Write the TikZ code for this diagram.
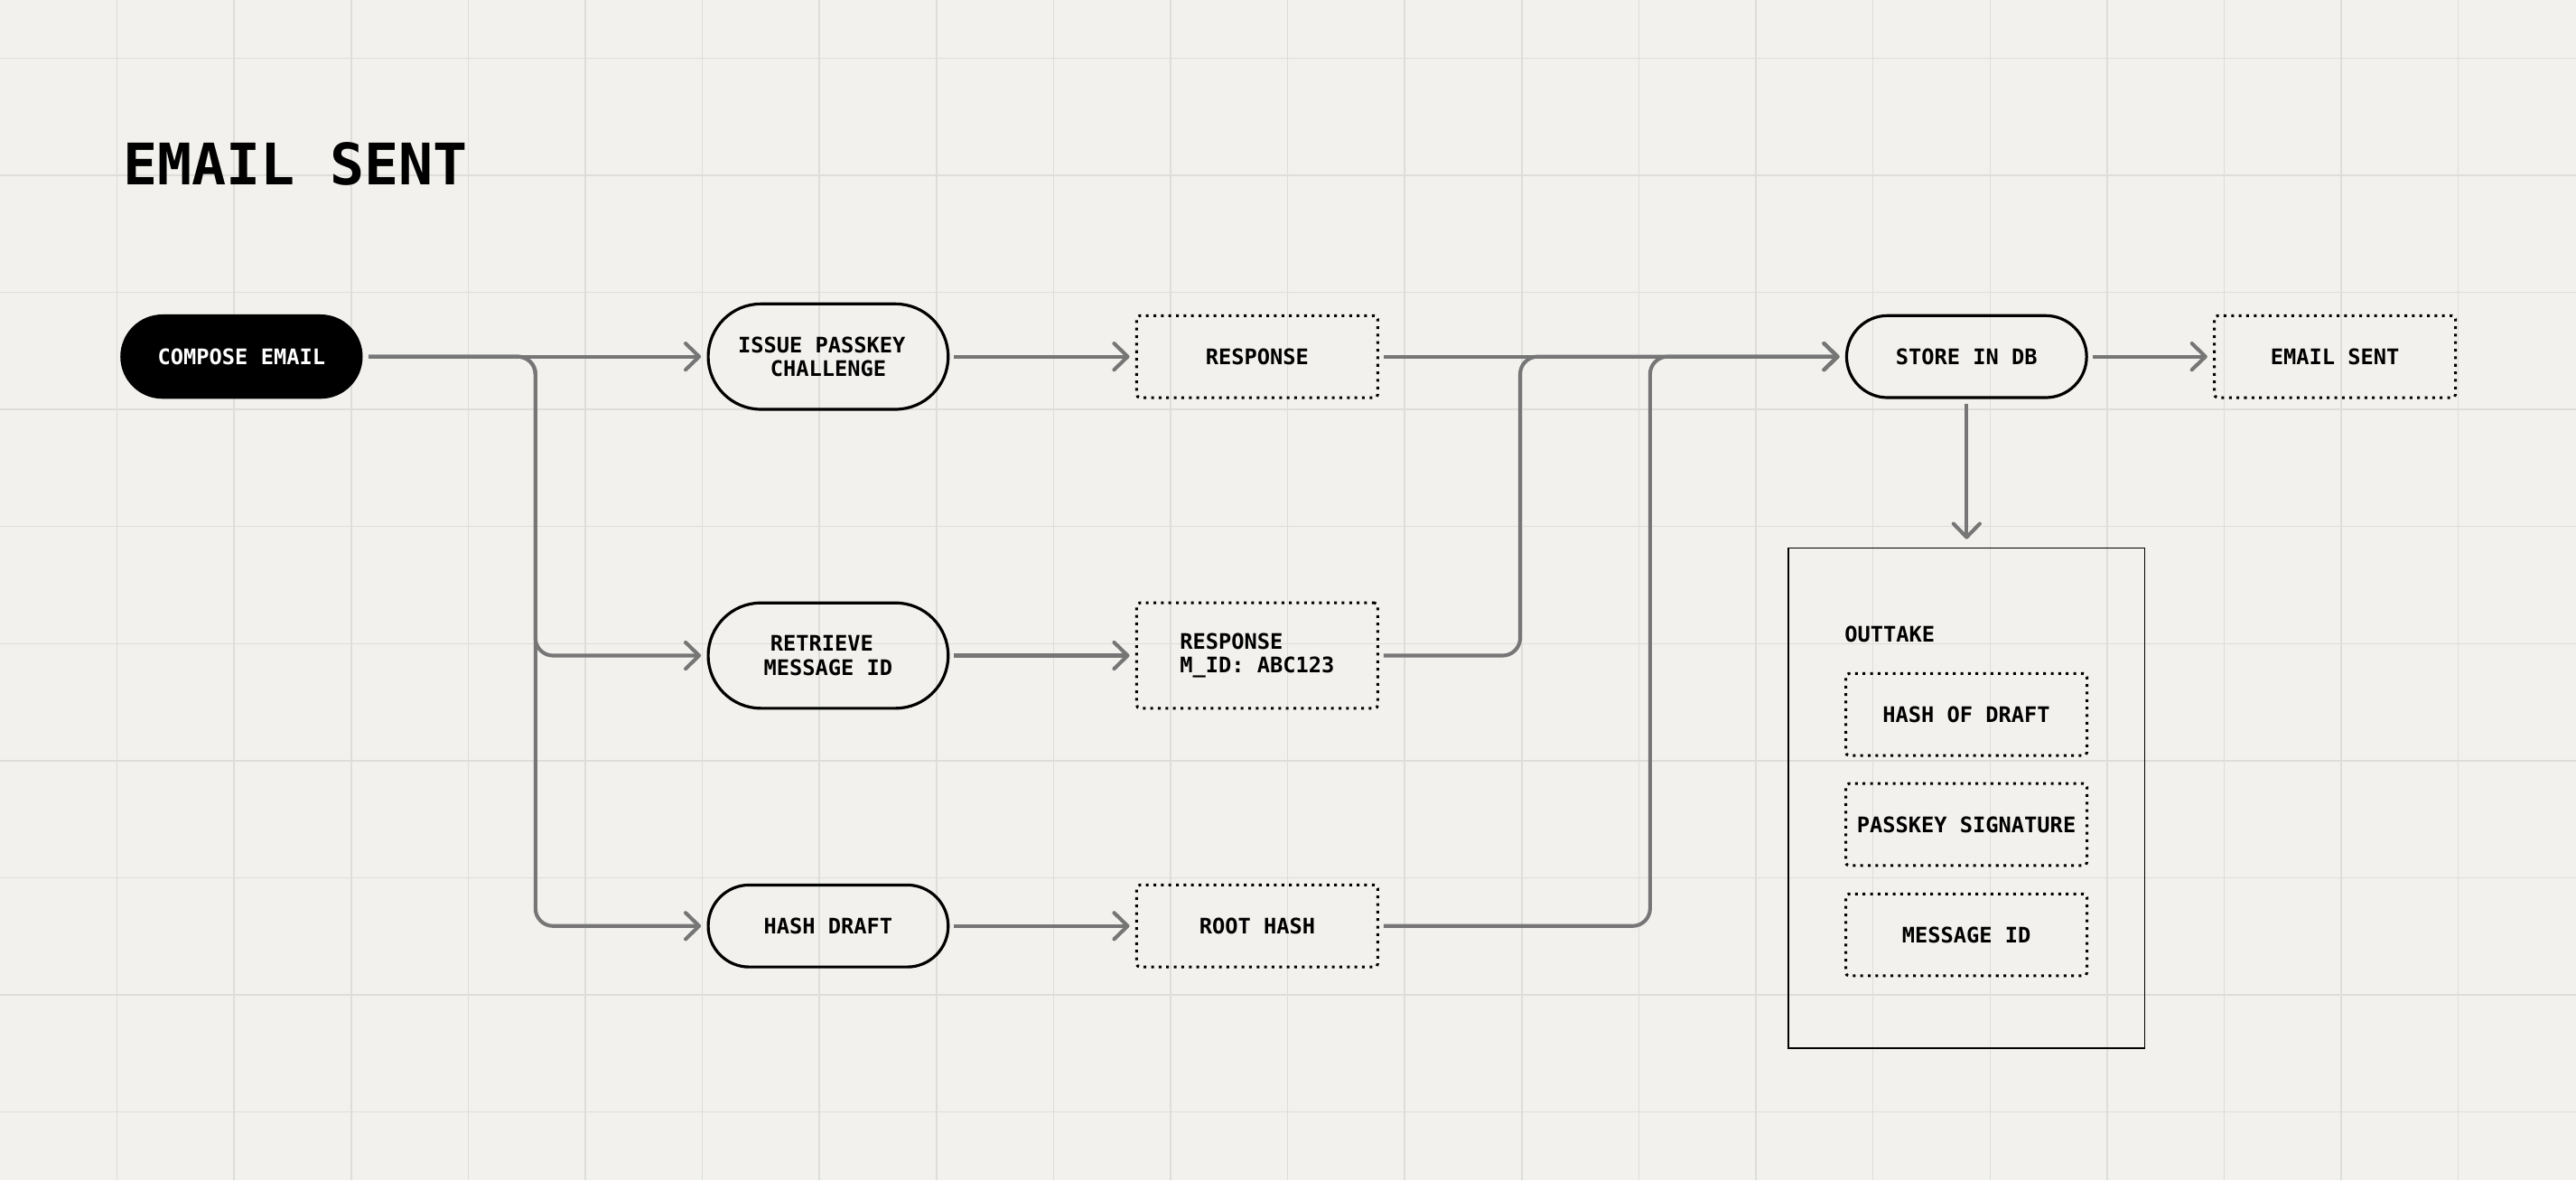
\documentclass[tikz,border=0pt]{standalone}
\usepackage{fontspec}
\setmonofont{DejaVu Sans Mono}
\usetikzlibrary{arrows.meta, positioning, calc}
\definecolor{paper}{RGB}{242, 241, 237}
\definecolor{gridgray}{RGB}{221, 221, 217}
\definecolor{wiregray}{RGB}{118, 118, 118}
\newcommand{\flowfont}{\ttfamily\bfseries\fontsize{5.2pt}{5.8pt}\selectfont}
\newcommand{\headfont}{\ttfamily\bfseries\fontsize{13.9pt}{16pt}\selectfont}

\begin{document}
\begin{tikzpicture}[
  gridline/.style={draw=gridgray, line width=0.33pt},
  pill/.style={draw=black, line width=0.7pt, rectangle, rounded corners=0.35cm, minimum width=2.05cm, minimum height=0.70cm, inner sep=0pt, align=center, font=\flowfont},
  tallpill/.style={pill, rounded corners=0.45cm, minimum height=0.90cm},
  blackpill/.style={pill, draw=none, fill=black, text=white, minimum width=2.07cm, minimum height=0.72cm, rounded corners=0.36cm},
  dotbox/.style={draw=black, line width=0.66pt, dash pattern=on 0.66pt off 1.17pt, rounded corners=0.8pt, minimum width=2.06cm, minimum height=0.70cm, inner sep=0pt, align=center, font=\flowfont},
  wire/.style={draw=wiregray, line width=0.9pt, shorten <=1.1pt, shorten >=1.4pt, -{Straight Barb[length=3.3pt, width=6.4pt, round]}},
  frame/.style={draw=black, line width=0.35pt, minimum width=3.041cm, minimum height=4.269cm, inner sep=0pt}
]
  \useasboundingbox (0,0) rectangle (22.006,-10.077);
  \fill[paper] (0,0) rectangle (22.006,-10.077);

  % Grid
  \foreach \x in {1,...,21}
    \draw[gridline] (\x,0) -- (\x,-10.077);
  \foreach \y in {0,...,9}
    \draw[gridline] (0,-0.496-\y) -- (22.006,-0.496-\y);

  % Title
  \node[anchor=base west, inner sep=0pt, font=\headfont] (title) at (1.045,-1.574) {EMAIL SENT};

  % First column
  \node[blackpill] (compose) at (2.063,-3.045) {COMPOSE EMAIL};
  \node[tallpill] (issue) at (7.075,-3.045) {ISSUE PASSKEY\phantom{X}\\CHALLENGE};
  \node[tallpill] (retrieve) at (7.075,-5.598) {RETRIEVE\phantom{X}\\MESSAGE ID};
  \node[pill] (hashdraft) at (7.075,-7.907) {HASH DRAFT};

  % Responses
  \node[dotbox] (response) at (10.74,-3.045) {RESPONSE};
  \node[dotbox, minimum height=0.90cm, align=left] (respmid) at (10.74,-5.598) {RESPONSE\\M\_ID: ABC123};
  \node[dotbox] (roothash) at (10.74,-7.907) {ROOT HASH};

  % Store and result
  \node[pill] (store) at (16.80,-3.045) {STORE IN DB};
  \node[dotbox] (sent) at (19.947,-3.045) {EMAIL SENT};

  % Outtake
  \node[frame] (outtake) at (16.80,-6.8145) {};
  \node[anchor=west, inner sep=0pt, font=\flowfont] (outlabel) at (15.752,-5.415) {OUTTAKE};
  \node[dotbox] (hashof) at (16.798,-6.101) {HASH OF DRAFT};
  \node[dotbox] (passsig) at (16.798,-7.041) {PASSKEY SIGNATURE};
  \node[dotbox] (msgid) at (16.798,-7.983) {MESSAGE ID};

  % Connectors
  \coordinate (split) at (4.574,-3.045);
  \coordinate (joinA) at (12.986,-3.045);
  \coordinate (joinB) at (14.096,-3.045);

  \draw[wire] (compose.east) -- (issue.west);
  \draw[wire, rounded corners=0.15cm] (compose.east) -- (split) |- (retrieve.west);
  \draw[wire, rounded corners=0.15cm] (compose.east) -- (split) |- (hashdraft.west);

  \draw[wire] (issue.east) -- (response.west);
  \draw[wire] (retrieve.east) -- (respmid.west);
  \draw[wire] (hashdraft.east) -- (roothash.west);

  \draw[wire] (response.east) -- (store.west);
  \draw[wire, rounded corners=0.15cm] (respmid.east) -| (joinA) -- (store.west);
  \draw[wire, rounded corners=0.15cm] (roothash.east) -| (joinB) -- (store.west);

  \draw[wire] (store.east) -- (sent.west);
  \draw[wire, shorten >=2pt] (store.south) -- (outtake.north);
\end{tikzpicture}
\end{document}
